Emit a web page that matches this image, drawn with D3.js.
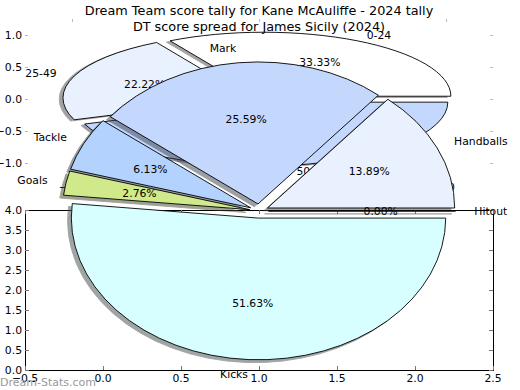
<!DOCTYPE html>
<html>
<head>
<meta charset="utf-8">
<script src="https://cdn.jsdelivr.net/npm/d3@7"></script>
<style>
  body { margin: 0; background: #fff; }
  text { font-family: "DejaVu Sans", sans-serif; }
</style>
</head>
<body>
<script>
var width = 520;
var height = 390;

// tally pie (score bands)
var tallyLabels = ["0-24", "25-49", "50-74"];
var tallyValues = [33.33, 22.22, 44.44];
var tallyColors = ["#ffffff", "#e9f1fe", "#c4d8fe"];

// score spread pie
var spreadLabels = ["Handballs", "Mark", "Tackle", "Goals", "Kicks", "Hitout"];
var spreadValues = [13.89, 25.59, 6.13, 2.76, 51.63, 0.00];
var spreadColors = ["#e9f1fe", "#c4d8fe", "#b3d3fe", "#cfe98b", "#d8ffff", "#ffffff"];

// tick values
var topXTicks = [-1.0, 0.0, 1.0];
var topYTicks = [-1.0, -0.5, 0.0, 0.5, 1.0];
var botXTicks = [-0.5, 0.0, 0.5, 1.0, 1.5, 2.0, 2.5];
var botYTicks = [0.0, 0.5, 1.0, 1.5, 2.0, 2.5, 3.0, 3.5, 4.0];

var svg = d3.select("body").append("svg")
    .attr("width", width)
    .attr("height", height);

svg.append("rect").attr("width", width).attr("height", height).attr("fill", "#fff");

// two stacked axes
var xTop = d3.scaleLinear().domain([-1.25, 1.25]).range([25, 493]);
var yTop = d3.scaleLinear().domain([-1.25, 1.25]).range([179, 19]);
var xBot = d3.scaleLinear().domain([-0.5, 2.5]).range([25, 493]);
var yBot = d3.scaleLinear().domain([0, 4]).range([370, 210]);

var fmt = d3.format(".1f");
var fs = 10.8;

// ---- bottom axes frame, ticks, labels (drawn first, pie covers it)
var gBot = svg.append("g");
gBot.append("rect")
    .attr("x", 25.5).attr("y", 210.5)
    .attr("width", 468).attr("height", 160)
    .attr("fill", "none").attr("stroke", "#000").attr("stroke-width", 1);

botXTicks.forEach(function(t) {
  var x = Math.round(xBot(t)) + 0.5;
  gBot.append("line").attr("x1", x).attr("x2", x).attr("y1", 370).attr("y2", 366).attr("stroke", "#777");
  gBot.append("line").attr("x1", x).attr("x2", x).attr("y1", 210).attr("y2", 214).attr("stroke", "#777");
  gBot.append("text").attr("x", xBot(t)).attr("y", 378)
      .attr("text-anchor", "middle").attr("dominant-baseline", "central")
      .style("font-size", fs + "px").text(fmt(t));
});
botYTicks.forEach(function(t) {
  var y = Math.round(yBot(t)) + 0.5;
  gBot.append("line").attr("x1", 25).attr("x2", 29).attr("y1", y).attr("y2", y).attr("stroke", "#777");
  gBot.append("line").attr("x1", 493).attr("x2", 489).attr("y1", y).attr("y2", y).attr("stroke", "#777");
  gBot.append("text").attr("x", 22).attr("y", yBot(t))
      .attr("text-anchor", "end").attr("dominant-baseline", "central")
      .style("font-size", fs + "px").text(fmt(t));
});

// ---- top axes (no frame, only ticks)
var gTop = svg.append("g");
topYTicks.forEach(function(t) {
  var y = Math.round(yTop(t)) + 0.5;
  gTop.append("line").attr("x1", 25).attr("x2", 28).attr("y1", y).attr("y2", y).attr("stroke", "#bbb");
  gTop.append("line").attr("x1", 493).attr("x2", 490).attr("y1", y).attr("y2", y).attr("stroke", "#bbb");
  gTop.append("text").attr("x", 22).attr("y", yTop(t))
      .attr("text-anchor", "end").attr("dominant-baseline", "central")
      .style("font-size", fs + "px").text(fmt(t));
});
topXTicks.forEach(function(t) {
  var x = Math.round(xTop(t)) + 0.5;
  gTop.append("line").attr("x1", x).attr("x2", x).attr("y1", 19).attr("y2", 22).attr("stroke", "#bbb");
  gTop.append("line").attr("x1", x).attr("x2", x).attr("y1", 179).attr("y2", 176).attr("stroke", "#bbb");
  gTop.append("text").attr("x", xTop(t)).attr("y", 187)
      .attr("text-anchor", "middle").attr("dominant-baseline", "central")
      .style("font-size", fs + "px").text(fmt(t));
});

// matplotlib style pie: starts at 3 o'clock, counter clockwise, exploded, with shadow
function drawPie(labels, values, colors, cx, cy, rx, ry, explode) {
  var g = svg.append("g");
  var pie = d3.pie().sort(null)
      .startAngle(Math.PI / 2)
      .endAngle(Math.PI / 2 - 2 * Math.PI);
  var arc = d3.arc().innerRadius(0).outerRadius(1);
  var slices = pie(values).map(function(d, i) {
    var m = (d.startAngle + d.endAngle) / 2;
    d.sx = Math.sin(m);
    d.sy = -Math.cos(m);
    d.cx = cx + explode * rx * d.sx;
    d.cy = cy + explode * ry * d.sy;
    d.label = labels[i];
    d.color = colors[i];
    return d;
  });

  // shadows first
  g.selectAll(".shadow").data(slices).enter().append("path")
      .attr("class", "shadow")
      .attr("d", arc)
      .attr("transform", function(d) {
        return "translate(" + (d.cx - 0.02 * rx) + "," + (d.cy + 0.02 * ry) + ") scale(" + rx + "," + ry + ")";
      })
      .attr("fill", function(d) {
        var c = d3.rgb(d.color);
        return d3.rgb(c.r * 0.3, c.g * 0.3, c.b * 0.3);
      })
      .attr("stroke", function(d) {
        var c = d3.rgb(d.color);
        return d3.rgb(c.r * 0.3, c.g * 0.3, c.b * 0.3);
      })
      .attr("opacity", 0.5)
      .style("vector-effect", "non-scaling-stroke")
      .attr("stroke-width", 0.9);

  g.selectAll(".wedge").data(slices).enter().append("path")
      .attr("class", "wedge")
      .attr("d", arc)
      .attr("transform", function(d) {
        return "translate(" + d.cx + "," + d.cy + ") scale(" + rx + "," + ry + ")";
      })
      .attr("fill", function(d) { return d.color; })
      .attr("stroke", "#000")
      .style("vector-effect", "non-scaling-stroke")
      .attr("stroke-width", 0.9);

  slices.forEach(function(d) {
    g.append("text")
        .attr("x", d.cx + 1.1 * rx * d.sx)
        .attr("y", d.cy + 1.1 * ry * d.sy)
        .attr("text-anchor", d.sx > 0 ? "start" : "end")
        .attr("dominant-baseline", "central")
        .style("font-size", fs + "px")
        .text(d.label);
    g.append("text")
        .attr("x", d.cx + 0.6 * rx * d.sx)
        .attr("y", d.cy + 0.6 * ry * d.sy)
        .attr("text-anchor", "middle")
        .attr("dominant-baseline", "central")
        .style("font-size", fs + "px")
        .text(d.data.toFixed(2) + "%");
  });
}

drawPie(tallyLabels, tallyValues, tallyColors,
        xTop(0), yTop(0), xTop(1) - xTop(0), yTop(0) - yTop(1), 0.05);

drawPie(spreadLabels, spreadValues, spreadColors,
        xBot(1.0), yBot(3.975), xBot(2.2) - xBot(1.0), yBot(0) - yBot(3.55), 0.05);

// titles
svg.append("text").attr("x", 259).attr("y", 10)
    .attr("text-anchor", "middle").attr("dominant-baseline", "central")
    .style("font-size", "12.8px")
    .text("Dream Team score tally for Kane McAuliffe - 2024 tally");
svg.append("text").attr("x", 259).attr("y", 26)
    .attr("text-anchor", "middle").attr("dominant-baseline", "central")
    .style("font-size", "12.8px")
    .text("DT score spread for James Sicily (2024)");

// watermark
svg.append("text").attr("x", 0).attr("y", 382)
    .attr("dominant-baseline", "central")
    .style("font-size", "11px")
    .attr("fill", "#999")
    .text("Dream-Stats.com");
</script>
</body>
</html>
